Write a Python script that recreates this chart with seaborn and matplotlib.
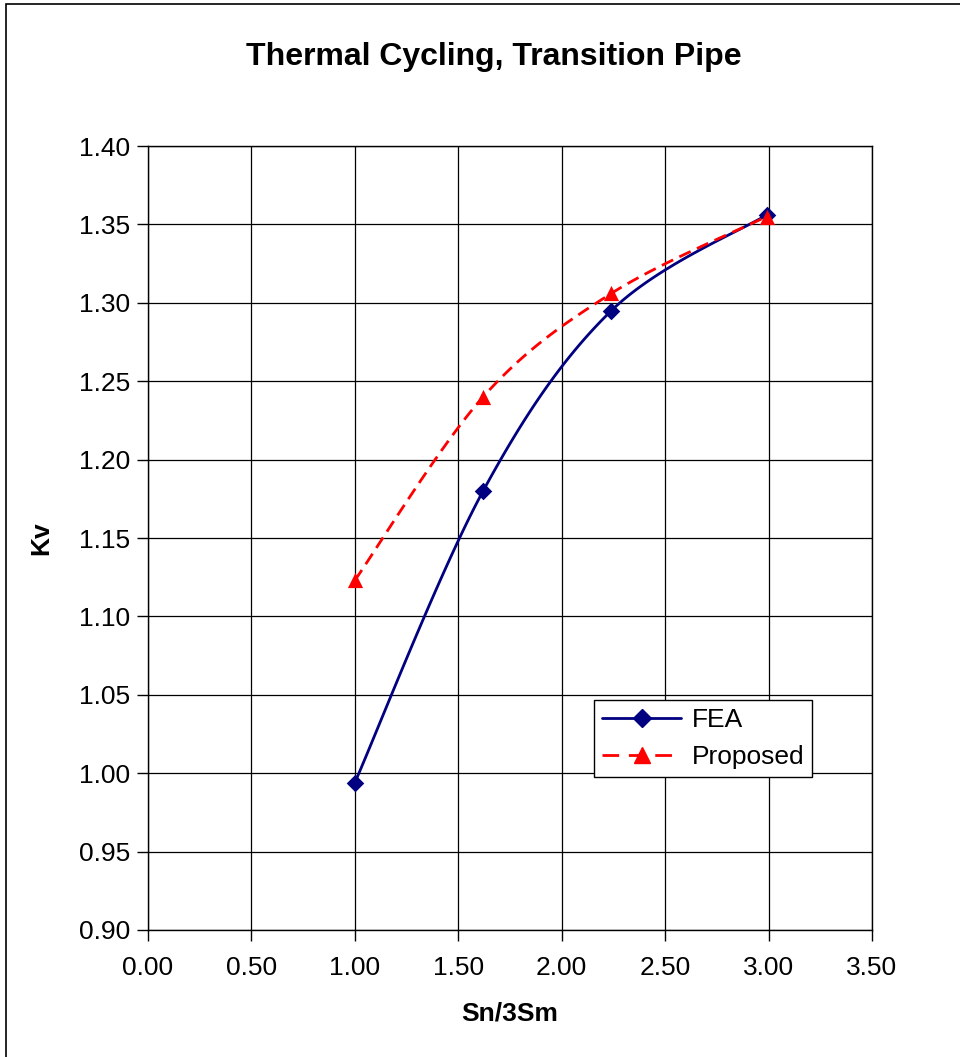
import numpy as np
import pandas as pd
import matplotlib
matplotlib.use("Agg")
import matplotlib.pyplot as plt
from matplotlib.lines import Line2D
from matplotlib.patches import Rectangle
import seaborn as sns

# Data
sn_3sm = [1.00, 1.62, 2.24, 2.99]
kv_fea = [0.994, 1.180, 1.295, 1.356]
kv_proposed = [1.123, 1.240, 1.306, 1.355]

x_ticks = [0.00, 0.50, 1.00, 1.50, 2.00, 2.50, 3.00, 3.50]
y_ticks = [0.90, 0.95, 1.00, 1.05, 1.10, 1.15, 1.20, 1.25, 1.30, 1.35, 1.40]


def smooth_curve(xs, ys, n=40):
    """Catmull-Rom spline through the given points (smoothed chart line)."""
    p = np.column_stack([xs, ys]).astype(float)
    p = np.vstack([p[0], p, p[-1]])
    out = []
    t = np.linspace(0, 1, n)[:, None]
    for i in range(1, len(p) - 2):
        p0, p1, p2, p3 = p[i - 1], p[i], p[i + 1], p[i + 2]
        seg = 0.5 * ((2 * p1) + (-p0 + p2) * t + (2 * p0 - 5 * p1 + 4 * p2 - p3) * t ** 2
                     + (-p0 + 3 * p1 - 3 * p2 + p3) * t ** 3)
        out.append(seg if i == 1 else seg[1:])
    out = np.vstack(out)
    return out[:, 0], out[:, 1]


sns.set_style("white")
plt.rcParams["font.family"] = ["Liberation Sans", "DejaVu Sans"]
plt.rcParams["text.color"] = "black"
plt.rcParams["xtick.color"] = "black"
plt.rcParams["ytick.color"] = "black"
plt.rcParams["axes.labelcolor"] = "black"

fig = plt.figure(figsize=(9.6, 10.57), dpi=100)
ax = fig.add_axes([148 / 960, 1 - 930 / 1057, (872 - 148) / 960, (930 - 146) / 1057])

navy = "#000080"
red = "#FF0000"

fx, fy = smooth_curve(sn_3sm, kv_fea)
px, py = smooth_curve(sn_3sm, kv_proposed)
curves = pd.DataFrame({"x": fx, "y": fy})
curves_p = pd.DataFrame({"x": px, "y": py})

sns.lineplot(data=curves, x="x", y="y", sort=False, estimator=None, ax=ax,
             color=navy, linewidth=2.0, zorder=3)
sns.lineplot(data=curves_p, x="x", y="y", sort=False, estimator=None, ax=ax,
             color=red, linewidth=2.0, zorder=4)
ax.lines[-1].set_dashes([4.5, 2.5])
sns.scatterplot(x=sn_3sm, y=kv_fea, ax=ax, marker="D", s=80, color=navy,
                edgecolor=navy, linewidth=0, zorder=5)
sns.scatterplot(x=sn_3sm, y=kv_proposed, ax=ax, marker="^", s=120, color=red,
                edgecolor=red, linewidth=0, zorder=6)

ax.set_xlim(0, 3.5)
ax.set_ylim(0.90, 1.40)
ax.set_xticks(x_ticks)
ax.set_yticks(y_ticks)
ax.set_xticklabels([f"{v:.2f}" for v in x_ticks])
ax.set_yticklabels([f"{v:.2f}" for v in y_ticks])
ax.tick_params(axis="both", direction="out", length=8, width=1, color="black",
               labelcolor="black", labelsize=19, bottom=True, left=True)
ax.tick_params(axis="x", pad=11)
ax.tick_params(axis="y", pad=5)
ax.grid(True, color="black", linewidth=0.9)
ax.set_axisbelow(True)
for s in ax.spines.values():
    s.set_color("black")
    s.set_linewidth(1.0)

ax.set_xlabel("Sn/3Sm", fontsize=19, fontweight="bold", labelpad=15, color="black")
ax.set_ylabel("Kv", fontsize=19, fontweight="bold", labelpad=18, color="black")
fig.text(494 / 960, 1 - 57 / 1057, "Thermal Cycling, Transition Pipe",
         ha="center", va="center", fontsize=23, fontweight="bold", color="black")

handles = [
    Line2D([], [], color=navy, linewidth=2.0, marker="D", markersize=9),
    Line2D([], [], color=red, linewidth=2.0, linestyle=(0, (6, 3.5)), marker="^",
           markersize=11),
]
leg = ax.legend(handles, ["FEA", "Proposed"], loc="upper left",
                bbox_to_anchor=((594 - 148) / 724, 1 - (700 - 146) / 784),
                fontsize=19, frameon=True, fancybox=False, edgecolor="black",
                framealpha=1, borderpad=0.3, handlelength=3.0, handletextpad=0.4,
                labelspacing=0.5, borderaxespad=0)
leg.get_frame().set_linewidth(1.0)
for t in leg.get_texts():
    t.set_color("black")

# outer chart border
fig.patches.append(Rectangle((6 / 960, -0.01), 1.0, 1 - 4 / 1057 + 0.01,
                             transform=fig.transFigure, fill=False,
                             edgecolor="black", linewidth=1.2))

fig.savefig("out.png", dpi=100)
